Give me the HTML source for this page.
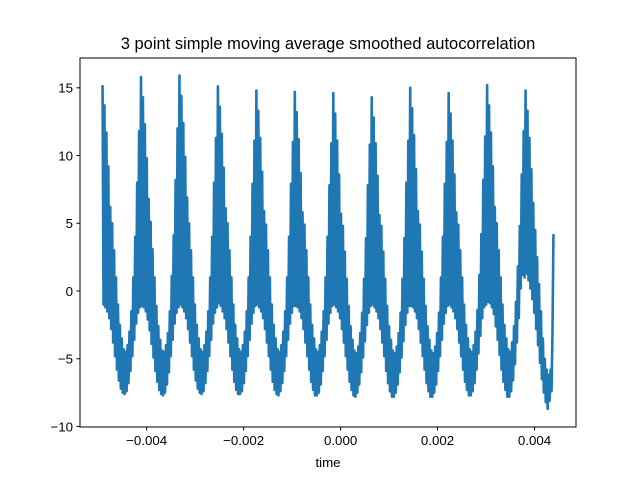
<!DOCTYPE html>
<html><head><meta charset="utf-8"><style>
html,body{margin:0;padding:0;background:#fff;}
svg{display:block;font-family:"Liberation Sans","DejaVu Sans",sans-serif;}
</style></head><body>
<svg id="chart" width="640" height="480" viewBox="0 0 640 480">
<rect width="640" height="480" fill="#fff"/>
<text x="328" y="49" text-anchor="middle" font-size="16.5">3 point simple moving average smoothed autocorrelation</text>
<g id="plot"></g>
<rect x="80" y="58" width="496" height="369" fill="none" stroke="#000" stroke-width="1"/>
<g id="xt"></g><g id="yt"></g>
<text x="328" y="467" text-anchor="middle" font-size="13.3">time</text>
</svg>
<script>
const tStart = -0.00491;
const tEnd = 0.00439;
const values = [
15.2,-1,13.7,-1.2,11.7,-1.5,9.2,-2,6.2,-2.8,5,-3.8,3,-4.8,1,-5.8,-1,-6.6,-2.5,-7.2,-3.5,-7.5,-4.3,-7.6,-4.5,-7.4,-4,-6.8,-3,-5.9,-1.5,-4.8,1,-3.6,4,-2.4,8,-1.6,11.8,-1.2,
15.8,-1.1,14.3,-1.2,12.3,-1.5,9.8,-2.1,6.8,-2.9,5.1,-3.9,3.1,-4.9,1,-5.9,-1.1,-6.7,-2.6,-7.3,-3.6,-7.6,-4.4,-7.7,-4.5,-7.5,-4,-6.9,-3.1,-6,-1.5,-4.8,1.1,-3.6,4.1,-2.4,8.2,-1.6,12,-1.2,
15.9,-1,14.4,-1.2,12.4,-1.5,9.9,-2,6.9,-2.8,5,-3.8,3,-4.8,1,-5.8,-1,-6.6,-2.5,-7.2,-3.5,-7.5,-4.3,-7.6,-4.5,-7.4,-4,-6.8,-3,-5.9,-1.5,-4.8,1,-3.6,4,-2.4,8,-1.6,11.3,-1.2,
15.1,-0.9,13.6,-1.1,11.6,-1.5,9.1,-2,6.1,-2.8,5,-3.8,3,-4.8,1,-5.8,-1,-6.7,-2.5,-7.3,-3.5,-7.6,-4.3,-7.6,-4.5,-7.4,-4,-6.8,-3,-5.9,-1.5,-4.8,1,-3.6,4,-2.4,7.9,-1.6,11.1,-1.1,
14.8,-1,13.3,-1.2,11.3,-1.5,8.8,-2,5.9,-2.8,4.9,-3.8,3,-4.8,1,-5.8,-1,-6.7,-2.5,-7.3,-3.5,-7.6,-4.3,-7.7,-4.5,-7.4,-4,-6.8,-3,-5.9,-1.5,-4.8,1,-3.6,4,-2.4,7.9,-1.6,11,-1.1,
14.7,-1.1,13.2,-1.2,11.2,-1.5,8.7,-2,5.8,-2.8,4.9,-3.8,3,-4.8,1,-5.8,-1,-6.7,-2.5,-7.3,-3.5,-7.7,-4.3,-7.7,-4.5,-7.5,-4,-6.9,-3,-5.9,-1.5,-4.8,1,-3.6,4,-2.4,7.8,-1.6,10.9,-1.1,
14.6,-1,13.1,-1.2,11.1,-1.5,8.6,-2,5.7,-2.8,4.8,-3.8,2.9,-4.8,0.9,-5.8,-1.1,-6.7,-2.6,-7.3,-3.6,-7.7,-4.4,-7.8,-4.6,-7.5,-4.1,-6.9,-3.1,-6,-1.6,-4.9,0.9,-3.7,3.9,-2.5,7.8,-1.6,10.8,-1.1,
14.3,-1,12.8,-1.2,10.9,-1.5,8.5,-2,5.6,-2.8,4.8,-3.8,2.9,-4.8,0.9,-5.9,-1.1,-6.8,-2.6,-7.4,-3.6,-7.8,-4.4,-7.8,-4.6,-7.5,-4.1,-6.9,-3.1,-6,-1.6,-4.9,0.9,-3.7,3.9,-2.5,8,-1.6,11.1,-1.1,
15,-1.1,13.5,-1.2,11.5,-1.5,9,-2,5.9,-2.8,4.9,-3.8,2.9,-4.8,0.9,-5.8,-1.1,-6.8,-2.6,-7.4,-3.6,-7.8,-4.4,-7.8,-4.6,-7.5,-4.1,-6.9,-3.1,-5.9,-1.6,-4.8,1,-3.6,4,-2.4,7.9,-1.6,11,-1.1,
14.6,-1,13.1,-1.2,11.1,-1.5,8.6,-2,5.8,-2.8,4.9,-3.8,3,-4.8,1,-5.8,-1,-6.7,-2.5,-7.3,-3.5,-7.7,-4.3,-7.7,-4.5,-7.4,-4,-6.8,-3,-5.8,-1.4,-4.6,1.2,-3.3,4.2,-2,8.2,-1.2,11.4,-1,
15.2,-0.8,13.7,-0.9,11.7,-1.2,9.2,-1.7,6.2,-2.6,5,-3.6,3,-4.7,1,-5.8,-1,-6.7,-2.5,-7.3,-3.5,-7.8,-4.3,-7.8,-4.5,-7.4,-3.8,-6.6,-2.6,-5.4,-0.8,-3.8,1.8,-2,4.8,0.2,8.6,1.2,11.8,1,
14.8,1.3,13.3,0.8,11.3,0.2,9,-0.6,6.5,-1.6,4.5,-2.8,2.5,-4,0.5,-5.3,-1.5,-6.5,-3.5,-7.5,-5,-8.2,-5.8,-8.7,-6.2,-8.1,-5.8,-7.4,-3,4.2
];
const yTicks = [-10,-5,0,5,10,15];
const xTicks = [-0.004,-0.002,0.000,0.002,0.004];
const xTickLabels = ["\u22120.004","\u22120.002","0.000","0.002","0.004"];

const L=80,R=576,T=58,B=427;
const xMin=tStart-(tEnd-tStart)*0.05, xMax=tEnd+(tEnd-tStart)*0.05;
const yMin=-10.04, yMax=17.2;
const xs=t=>L+(t-xMin)/(xMax-xMin)*(R-L);
const ys=v=>B-(v-yMin)/(yMax-yMin)*(B-T);
const NS="http://www.w3.org/2000/svg";
const n=values.length;
let d="";
values.forEach((v,i)=>{const t=tStart+(tEnd-tStart)*i/(n-1);d+=(i?"L":"M")+xs(t).toFixed(2)+" "+ys(v).toFixed(2);});
const p=document.createElementNS(NS,"path");


p.setAttribute("d",d);p.setAttribute("fill","none");p.setAttribute("stroke","#1f77b4");p.setAttribute("stroke-width","2.6");p.setAttribute("stroke-linejoin","round");
document.getElementById("plot").appendChild(p);
const xg=document.getElementById("xt");
xTicks.forEach((t,i)=>{const x=xs(t);
 const l=document.createElementNS(NS,"line");
 
 
 l.setAttribute("x1",x);l.setAttribute("x2",x);l.setAttribute("y1",B);l.setAttribute("y2",B+3.5);l.setAttribute("stroke","#000");xg.appendChild(l);
 const tx=document.createElementNS(NS,"text");
 
 
 tx.setAttribute("x",x);tx.setAttribute("y",B+18);tx.setAttribute("text-anchor","middle");tx.setAttribute("font-size","13.3");tx.textContent=xTickLabels[i];xg.appendChild(tx);});
const yg=document.getElementById("yt");
yTicks.forEach(v=>{const y=ys(v);
 const l=document.createElementNS(NS,"line");
 
 
 l.setAttribute("x1",L-3.5);l.setAttribute("x2",L);l.setAttribute("y1",y);l.setAttribute("y2",y);l.setAttribute("stroke","#000");yg.appendChild(l);
 const tx=document.createElementNS(NS,"text");
 
 
 tx.setAttribute("x",L-7);tx.setAttribute("y",y+4.8);tx.setAttribute("text-anchor","end");tx.setAttribute("font-size","13.3");tx.textContent=(v<0?"\u2212":"")+Math.abs(v);yg.appendChild(tx);});
</script>
</body></html>
